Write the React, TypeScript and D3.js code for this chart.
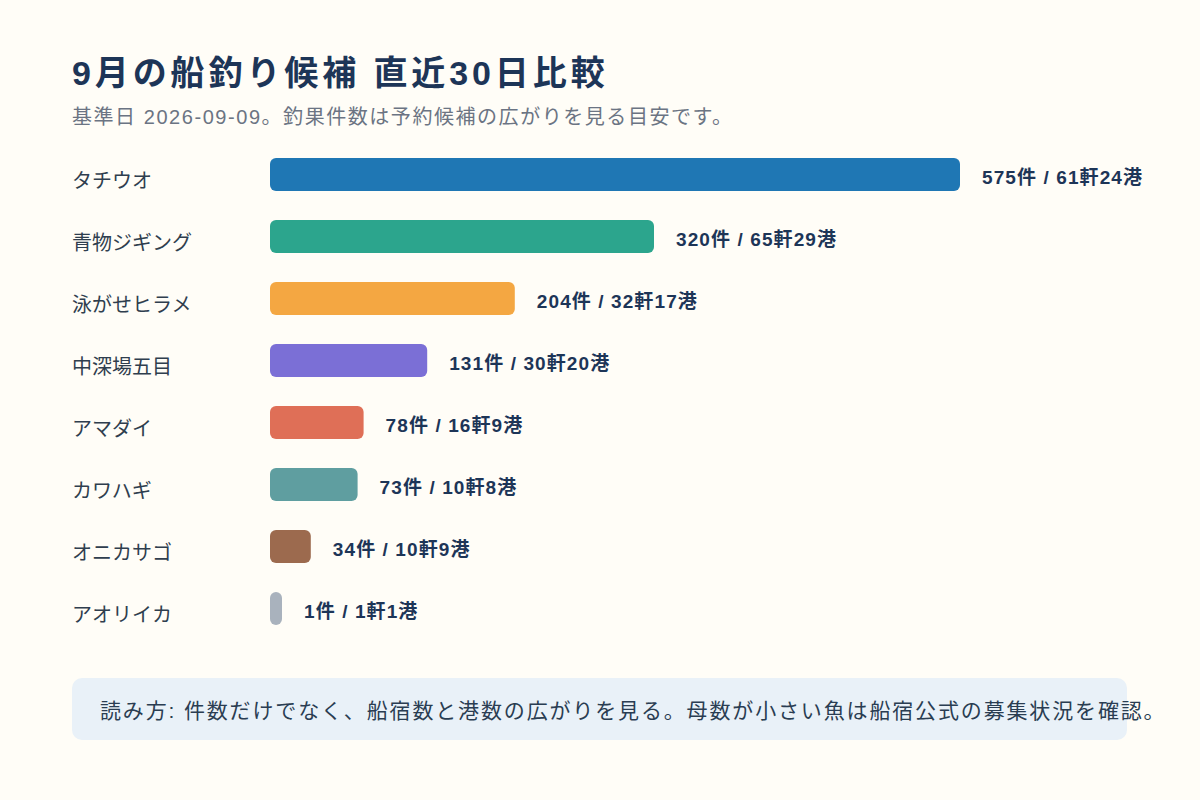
import * as React from "react";
import * as d3 from "d3";

// Chart data
const categories: string[] = ["タチウオ", "青物ジギング", "泳がせヒラメ", "中深場五目", "アマダイ", "カワハギ", "オニカサゴ", "アオリイカ"];
const counts: number[] = [575, 320, 204, 131, 78, 73, 34, 1];
const shops: number[] = [61, 65, 32, 30, 16, 10, 10, 1];
const ports: number[] = [24, 29, 17, 20, 9, 8, 9, 1];
const colors: string[] = ["#1f77b4", "#2ca58d", "#f4a742", "#7b6fd6", "#df6f57", "#5f9ea0", "#9c6a4e", "#a9b2bd"];

const title = "9月の船釣り候補 直近30日比較";
const subtitle = "基準日 2026-09-09。釣果件数は予約候補の広がりを見る目安です。";
const note = "読み方: 件数だけでなく、船宿数と港数の広がりを見る。母数が小さい魚は船宿公式の募集状況を確認。";

const FONT = "'Liberation Sans', 'Noto Sans CJK JP', sans-serif";

export default function App() {
    const width = 1200;
    const height = 800;

    const x = d3.scaleLinear().domain([0, d3.max(counts) as number]).range([270, 960]);
    const y = d3.scaleBand<string>().domain(categories).range([143.5, 639.5]).paddingInner(0.468).paddingOuter(0.234);
    const minWidth = 12;

    return (
        <div style={{ position: "absolute", left: 0, top: 0 }}>
            <svg width={width} height={height} style={{ display: "block" }} fontFamily={FONT}>
                <rect width={width} height={height} fill="#fffdf7" />
                <text x={72} y={85} fontSize={34} fontWeight="bold" fill="#1d3557" letterSpacing={3.9}>{title}</text>
                <text x={72} y={124} fontSize={20} fill="#6b7483" letterSpacing={1.55}>{subtitle}</text>

                {categories.map((c, i) => {
                    const yy = y(c) as number;
                    const bw = Math.max(x(counts[i]) - x(0), minWidth);
                    const cy = yy + y.bandwidth() / 2;
                    return (
                        <g key={c}>
                            <text x={72} y={cy + 13} fontSize={20} fill="#2f3e4e">{c}</text>
                            <rect x={x(0)} y={yy} width={bw} height={y.bandwidth()} rx={6} fill={colors[i]} />
                            <text x={x(0) + bw + 22} y={cy + 9} fontSize={19} fontWeight="bold" fill="#1d3557" letterSpacing={1.1}>
                                {`${counts[i]}件 / ${shops[i]}軒${ports[i]}港`}
                            </text>
                        </g>
                    );
                })}

                <rect x={72} y={678} width={1055} height={62} rx={10} fill="#e9f1f8" />
                <text x={100} y={718} fontSize={21} fill="#2a3d52" letterSpacing={1.85}>{note}</text>
            </svg>
        </div>
    );
}
